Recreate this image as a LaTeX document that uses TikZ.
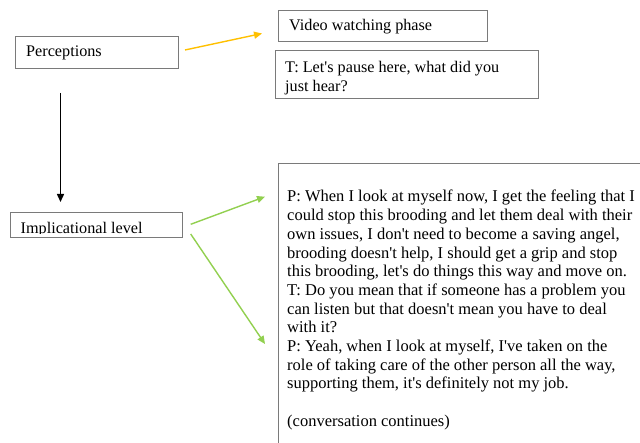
\documentclass[tikz,border=0pt]{standalone}
\usepackage{fontspec}
\setmainfont{Liberation Serif}
\usetikzlibrary{arrows.meta}
\definecolor{boxgray}{HTML}{7A7A7A}
\definecolor{arrowyellow}{HTML}{FFC000}
\definecolor{arrowgreen}{HTML}{92D050}
\newcommand{\ap}{\textquotesingle}
\tikzset{
  box/.style={draw=boxgray, line width=1pt},
  txt/.style={anchor=base west, inner sep=0pt, font=\fontsize{16.2}{19}\selectfont},
  bigtxt/.style={anchor=base west, inner sep=0pt, font=\fontsize{16.5}{19}\selectfont},
  yarrow/.style={draw=arrowyellow, line width=1.4pt, -{Triangle[length=8pt,width=7pt]}},
  garrow/.style={draw=arrowgreen, line width=1.4pt, -{Triangle[length=8pt,width=7pt]}},
  karrow/.style={draw=black, line width=1.4pt, -{Triangle[length=8pt,width=7pt]}},
}
\begin{document}
\begin{tikzpicture}[x=1pt,y=-1pt]
\useasboundingbox (0,0) rectangle (640,443);
% boxes
\draw[box] (15,37) rectangle (178.5,69);
\node[txt] (perc) at (26,57) {Perceptions};
\draw[box] (278.5,11) rectangle (487.5,41.5);
\node[txt] (video) at (289,31) {Video watching phase};
\draw[box] (275.5,51) rectangle (538.5,99);
\node[txt] (t1) at (285,72.5) {T: Let\ap s pause here, what did you};
\node[txt] (t2) at (285,91.5) {just hear?};
\draw[box] (10,212.5) rectangle (182.5,238);
\begin{scope}
\clip (10,212.5) rectangle (182.5,233.8);
\node[txt] (impl) at (20.5,233.3) {Implicational level};
\end{scope}
\draw[box] (278.5,443) -- (278.5,163.5) -- (641,163.5);
% big text
\node[bigtxt] (b1) at (287,202) {P: When I look at myself now, I get the feeling that I};
\node[bigtxt] (b2) at (287,220.7) {could stop this brooding and let them deal with their};
\node[bigtxt] (b3) at (287,239.4) {own issues, I don\ap t need to become a saving angel,};
\node[bigtxt] (b4) at (287,258.1) {brooding doesn\ap t help, I should get a grip and stop};
\node[bigtxt] (b5) at (287,276.8) {this brooding, let\ap s do things this way and move on.};
\node[bigtxt] (b6) at (287,295.5) {T: Do you mean that if someone has a problem you};
\node[bigtxt] (b7) at (287,314.2) {can listen but that doesn\ap t mean you have to deal};
\node[bigtxt] (b8) at (287,332.9) {with it?};
\node[bigtxt] (b9) at (287,351.6) {P: Yeah, when I look at myself, I\ap ve taken on the};
\node[bigtxt] (b10) at (287,370.3) {role of taking care of the other person all the way,};
\node[bigtxt] (b11) at (287,389) {supporting them, it\ap s definitely not my job.};
\node[bigtxt] (b13) at (287,426.4) {(conversation continues)};
% connector endpoints
\coordinate (ya) at (185,50);
\coordinate (yb) at (262,33.5);
\coordinate (ka) at (60.5,93);
\coordinate (kb) at (60.5,202);
\coordinate (ga) at (190.7,224.3);
\coordinate (gb) at (265,196.7);
\coordinate (gc) at (190.7,234);
\coordinate (gd) at (265,344);
\draw[yarrow] (ya) -- (yb);
\draw[karrow] (ka) -- (kb);
\draw[garrow] (ga) -- (gb);
\draw[garrow] (gc) -- (gd);
\end{tikzpicture}
\end{document}
